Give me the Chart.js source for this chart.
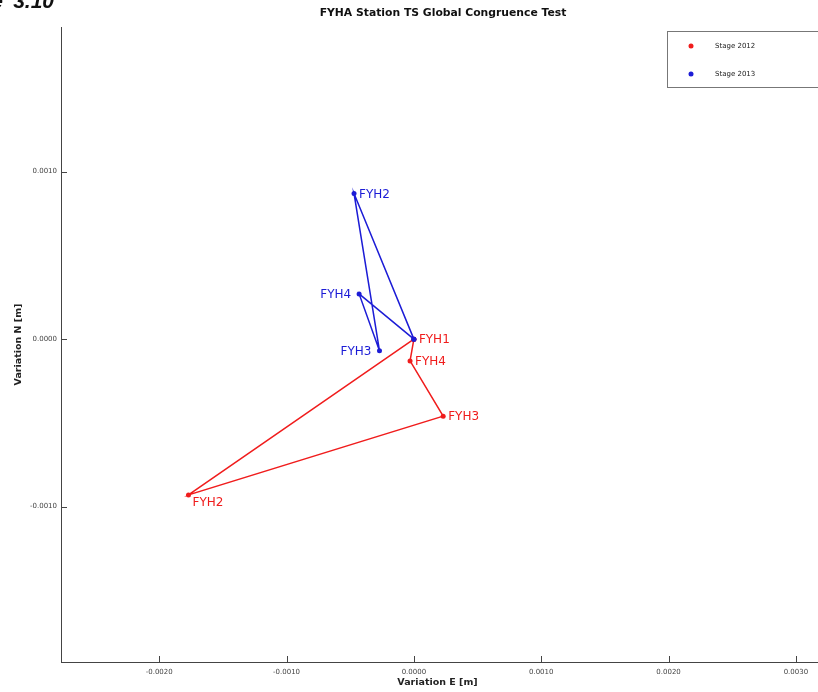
<!DOCTYPE html>
<html>
<head>
<meta charset="utf-8">
<title>FYHA Station TS Global Congruence Test</title>
<script src="https://cdn.jsdelivr.net/npm/chart.js@4"></script>
<style>
  body { margin: 0; background: #fff; }
  canvas { display: block; }
</style>
</head>
<body>
<canvas id="congruenceChart" width="818" height="692"></canvas>
<script>
// station displacements [m], polygon closed back on FYH1
var stations2012 = ['FYH1', 'FYH4', 'FYH3', 'FYH2', 'FYH1'];
var east2012 = [0.0000, -0.00003, 0.00023, -0.00177, 0.0000];
var north2012 = [0.0000, -0.00013, -0.00046, -0.00093, 0.0000];

var stations2013 = ['FYH1', 'FYH2', 'FYH3', 'FYH4', 'FYH1'];
var east2013 = [0.0000, -0.00047, -0.00027, -0.00043, 0.0000];
var north2013 = [0.0000, 0.00087, -0.00007, 0.00027, 0.0000];

var seriesNames = ['Stage 2012', 'Stage 2013'];
var xTicks = [-0.0020, -0.0010, 0.0000, 0.0010, 0.0020, 0.0030];
var yTicks = [-0.0010, 0.0000, 0.0010];

// where each station name sits relative to its point (null = no label)
var side2012 = ['right', 'right', 'right', 'below'];
var side2013 = [null, 'right', 'left', 'left'];

var RED = '#f01c1c';
var BLUE = '#1c1cd6';
var FONT = '"DejaVu Sans", Verdana, sans-serif';

function toPoints(xs, ys) {
    return xs.map(function (x, i) { return { x: x, y: ys[i] }; });
}

// station names next to the points
var stationLabels = {
    id: 'stationLabels',
    afterDatasetsDraw: function (chart) {
        var ctx = chart.ctx;
        ctx.save();
        ctx.font = '12px ' + FONT;
        ctx.textBaseline = 'middle';
        chart.data.datasets.forEach(function (ds, d) {
            var meta = chart.getDatasetMeta(d);
            ds.names.forEach(function (name, i) {
                var side = ds.sides[i];
                if (!side) return;
                var pt = meta.data[i];
                ctx.fillStyle = ds.borderColor;
                if (side === 'left') {
                    ctx.textAlign = 'right';
                    ctx.fillText(name, pt.x - 8, pt.y + 1);
                } else if (side === 'below') {
                    ctx.textAlign = 'left';
                    ctx.fillText(name, pt.x + 4, pt.y + 8);
                } else {
                    ctx.textAlign = 'left';
                    ctx.fillText(name, pt.x + 5, pt.y + 1);
                }
            });
        });
        ctx.restore();
    }
};

// title, inward tick marks, legend box and the caption fragment
var decorations = {
    id: 'decorations',
    afterDraw: function (chart) {
        var ctx = chart.ctx;
        var area = chart.chartArea;
        var xs = chart.scales.x, ys = chart.scales.y;
        ctx.save();

        ctx.fillStyle = '#111';
        ctx.font = 'bold 10.8px ' + FONT;
        ctx.textAlign = 'center';
        ctx.textBaseline = 'middle';
        ctx.fillText('FYHA Station TS Global Congruence Test', 443, 13);

        ctx.strokeStyle = '#444';
        ctx.lineWidth = 1;
        ctx.beginPath();
        // bottom axis runs on to the canvas edge
        ctx.moveTo(area.right, Math.round(area.bottom) + 0.5);
        ctx.lineTo(chart.width, Math.round(area.bottom) + 0.5);
        xTicks.forEach(function (v) {
            var px = Math.round(xs.getPixelForValue(v)) + 0.5;
            ctx.moveTo(px, area.bottom);
            ctx.lineTo(px, area.bottom - 6);
        });
        yTicks.forEach(function (v) {
            var py = Math.round(ys.getPixelForValue(v)) + 0.5;
            ctx.moveTo(area.left, py);
            ctx.lineTo(area.left + 6, py);
        });
        ctx.stroke();

        // legend
        var lx = 667.5, ly = 31.5, lw = 151, lh = 56;
        ctx.fillStyle = '#fff';
        ctx.fillRect(lx, ly, lw, lh);
        ctx.strokeStyle = '#777';
        ctx.strokeRect(lx, ly, lw, lh);
        ctx.font = '7px ' + FONT;
        ctx.textAlign = 'left';
        [RED, BLUE].forEach(function (c, i) {
            var yy = 46 + i * 28;
            ctx.fillStyle = c;
            ctx.beginPath();
            ctx.arc(691, yy, 2.5, 0, Math.PI * 2);
            ctx.fill();
            ctx.fillStyle = '#222';
            ctx.fillText(seriesNames[i], 715, yy + 0.5);
        });

        ctx.fillStyle = '#111';
        ctx.font = 'bold italic 21px "Liberation Sans", Arial, sans-serif';
        ctx.textAlign = 'right';
        ctx.textBaseline = 'alphabetic';
        ctx.fillText('3.10', 54, 8);
        ctx.fillText('Figure', 3, 8);
        ctx.restore();
    }
};

var ctx = document.getElementById('congruenceChart').getContext('2d');
var chart = new Chart(ctx, {
    type: 'scatter',
    data: {
        datasets: [{
            label: seriesNames[0],
            data: toPoints(east2012, north2012),
            names: stations2012,
            sides: side2012,
            showLine: true,
            borderColor: RED,
            backgroundColor: RED,
            borderWidth: 1.5,
            pointRadius: 2.5,
            pointBorderWidth: 0,
            order: 1
        }, {
            label: seriesNames[1],
            data: toPoints(east2013, north2013),
            names: stations2013,
            sides: side2013,
            showLine: true,
            borderColor: BLUE,
            backgroundColor: BLUE,
            borderWidth: 1.5,
            pointRadius: 2.5,
            pointBorderWidth: 0,
            order: 0
        }]
    },
    options: {
        responsive: false,
        animation: false,
        layout: { padding: { top: 27, left: 0, right: 0, bottom: 0 } },
        plugins: {
            legend: { display: false },
            tooltip: { enabled: false },
            title: { display: false }
        },
        scales: {
            x: {
                type: 'linear',
                min: -0.002771,
                max: 0.003142,
                afterFit: function (s) {
                    s.height = 30;
                },
                afterBuildTicks: function (s) {
                    s.ticks = xTicks.map(function (v) { return { value: v }; });
                },
                border: { display: true, color: '#444', width: 1 },
                grid: { display: false, drawTicks: false, tickLength: 0 },
                ticks: {
                    color: '#444',
                    padding: 6,
                    maxRotation: 0,
                    font: { family: FONT, size: 7 },
                    callback: function (v) { return Number(v).toFixed(4); }
                },
                title: {
                    display: true,
                    text: 'Variation E [m]',
                    color: '#222',
                    padding: { top: 0, bottom: 4 },
                    font: { family: FONT, size: 9.5, weight: 'bold' }
                }
            },
            y: {
                type: 'linear',
                min: -0.001928,
                max: 0.001864,
                afterFit: function (s) {
                    s.width = 61;
                },
                afterBuildTicks: function (s) {
                    s.ticks = yTicks.map(function (v) { return { value: v }; });
                },
                border: { display: true, color: '#444', width: 1 },
                grid: { display: false, drawTicks: false, tickLength: 0 },
                ticks: {
                    color: '#444',
                    padding: 4,
                    font: { family: FONT, size: 7 },
                    callback: function (v) { return Number(v).toFixed(4); }
                },
                title: {
                    display: true,
                    text: 'Variation N [m]',
                    color: '#222',
                    padding: { top: 13, bottom: 0 },
                    font: { family: FONT, size: 9.5, weight: 'bold' }
                }
            }
        }
    },
    plugins: [stationLabels, decorations]
});
</script>
</body>
</html>
